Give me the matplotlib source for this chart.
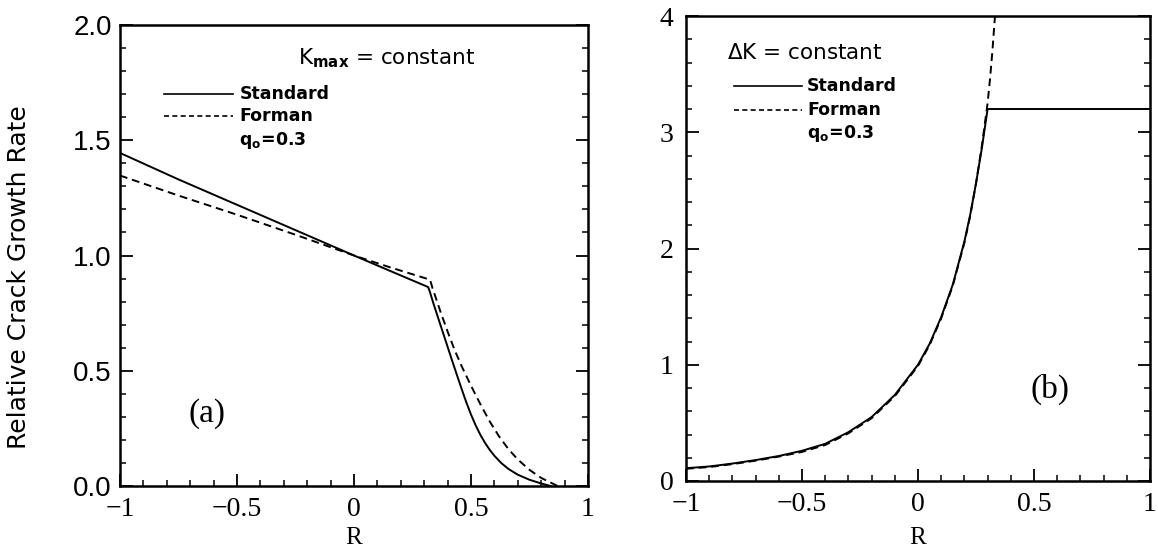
import matplotlib
matplotlib.use("Agg")
import matplotlib.pyplot as plt
from matplotlib.ticker import MultipleLocator, FixedLocator

# ---- panel (a): K_max = constant ----
r_std_a = [-1.0, -0.75, -0.5, -0.25, 0.0, 0.15, 0.317, 0.325, 0.34, 0.36, 0.38,
           0.40, 0.42, 0.44, 0.46, 0.48, 0.50, 0.52, 0.54, 0.56, 0.58, 0.60,
           0.63, 0.66, 0.70, 0.75, 0.80, 0.84]
rate_std_a = [1.445, 1.33, 1.22, 1.11, 1.0, 0.935, 0.863, 0.84, 0.79, 0.728, 0.666,
              0.604, 0.542, 0.481, 0.421, 0.363, 0.31, 0.263, 0.222, 0.187, 0.157,
              0.131, 0.099, 0.074, 0.049, 0.027, 0.011, 0.0]

r_for_a = [-1.0, -0.75, -0.5, -0.25, 0.0, 0.15, 0.325, 0.335, 0.35, 0.37, 0.40,
           0.43, 0.46, 0.50, 0.54, 0.58, 0.62, 0.66, 0.70, 0.75, 0.80, 0.85, 0.87]
rate_for_a = [1.347, 1.26, 1.177, 1.09, 1.0, 0.95, 0.895, 0.86, 0.815, 0.755, 0.67,
              0.59, 0.52, 0.435, 0.355, 0.28, 0.215, 0.16, 0.115, 0.07, 0.035, 0.01, 0.0]

# ---- panel (b): delta K = constant ----
r_std_b = [-1.0, -0.9, -0.8, -0.7, -0.6, -0.5, -0.4, -0.3, -0.2, -0.1, 0.0,
           0.05, 0.1, 0.15, 0.2, 0.225, 0.25, 0.275, 0.3, 1.0]
rate_std_b = [0.11, 0.125, 0.15, 0.18, 0.215, 0.26, 0.32, 0.42, 0.55, 0.74, 1.0,
              1.18, 1.41, 1.69, 2.06, 2.29, 2.56, 2.86, 3.2, 3.2]

r_for_b = [-1.0, -0.9, -0.8, -0.7, -0.6, -0.5, -0.4, -0.3, -0.2, -0.1, 0.0,
           0.05, 0.1, 0.15, 0.2, 0.225, 0.25, 0.275, 0.3, 0.31, 0.32, 0.33, 0.336]
rate_for_b = [0.105, 0.12, 0.145, 0.175, 0.21, 0.25, 0.31, 0.41, 0.54, 0.73, 0.99,
              1.17, 1.40, 1.68, 2.05, 2.28, 2.56, 2.88, 3.25, 3.45, 3.68, 3.95, 4.1]

xticks = [-1, -0.5, 0, 0.5, 1]
xtick_labels = ["\u22121", "\u22120.5", "0", "0.5", "1"]
yticks_a = [0.0, 0.5, 1.0, 1.5, 2.0]
yticks_b = [0, 1, 2, 3, 4]

SERIF = "Liberation Serif"
SANS = "DejaVu Sans"

fig = plt.figure(figsize=(11.58, 5.5), dpi=100)
ax_a = fig.add_axes([120 / 1158, 64 / 550, 468 / 1158, 461 / 550])
ax_b = fig.add_axes([686 / 1158, 69 / 550, 464 / 1158, 465 / 550])


def style_axes(ax, ymin, ymax, yminor, r_label_y):
    ax.set_xlim(-1, 1)
    ax.set_ylim(ymin, ymax)
    for s in ax.spines.values():
        s.set_linewidth(1.8)
    ax.xaxis.set_major_locator(FixedLocator(xticks))
    ax.xaxis.set_minor_locator(MultipleLocator(0.1))
    ax.yaxis.set_minor_locator(MultipleLocator(yminor))
    ax.tick_params(which="both", direction="in", top=False, right=True)
    ax.tick_params(which="major", length=9, width=1.3)
    ax.tick_params(which="minor", length=4, width=1.1)
    ax.tick_params(axis="x", which="major", pad=8)
    ax.set_xticklabels(xtick_labels, fontfamily=SERIF, fontsize=20)
    ax.set_xlabel("R", fontfamily=SERIF, fontsize=18)
    ax.xaxis.set_label_coords(0.5, r_label_y)


# panel (a)
ax_a.plot(r_std_a, rate_std_a, color="black", lw=1.4)
ax_a.plot(r_for_a, rate_for_a, color="black", lw=1.4, ls=(0, (4, 2.5)))
style_axes(ax_a, 0, 2.0, 0.1, -0.088)
ax_a.set_yticks(yticks_a)
ax_a.set_yticklabels([f"{v:.1f}" for v in yticks_a], fontfamily="Liberation Sans",
                     fontsize=20)
ax_a.tick_params(axis="y", which="major", pad=6)
ax_a.set_ylabel("Relative Crack Growth Rate", fontfamily=SANS, fontsize=18)
ax_a.yaxis.set_label_coords(-0.19, 0.453)
ax_a.text(0.14, 1.857, r"K$_{\mathbf{max}}$ = constant", fontfamily=SANS,
          fontsize=15.5, ha="center", va="center")
ax_a.plot([-0.81, -0.515], [1.70, 1.70], color="black", lw=1.2)
ax_a.plot([-0.81, -0.515], [1.606, 1.606], color="black", lw=1.2, ls=(0, (3, 2)))
ax_a.text(-0.49, 1.70, "Standard", fontfamily=SANS, fontsize=12.5,
          fontweight="bold", va="center")
ax_a.text(-0.49, 1.606, "Forman", fontfamily=SANS, fontsize=12.5,
          fontweight="bold", va="center")
ax_a.text(-0.49, 1.50, r"q$_{\mathbf{o}}$=0.3", fontfamily=SANS, fontsize=12.5,
          fontweight="bold", va="center")
ax_a.text(-0.627, 0.312, "(a)", fontfamily=SERIF, fontsize=24,
          ha="center", va="center")

# panel (b)
ax_b.plot(r_std_b, rate_std_b, color="black", lw=1.4)
ax_b.plot(r_for_b, rate_for_b, color="black", lw=1.4, ls=(0, (4, 2.5)))
style_axes(ax_b, 0, 4, 0.2, -0.098)
ax_b.set_yticks(yticks_b)
ax_b.set_yticklabels([str(v) for v in yticks_b], fontfamily=SERIF, fontsize=20)
ax_b.tick_params(axis="y", which="major", pad=9)
ax_b.text(-0.486, 3.68, r"$\Delta$K = constant", fontfamily=SANS, fontsize=15.5,
          ha="center", va="center")
ax_b.plot([-0.793, -0.502], [3.40, 3.40], color="black", lw=1.2)
ax_b.plot([-0.793, -0.502], [3.19, 3.19], color="black", lw=1.2, ls=(0, (3, 2)))
ax_b.text(-0.478, 3.40, "Standard", fontfamily=SANS, fontsize=12.5,
          fontweight="bold", va="center")
ax_b.text(-0.478, 3.19, "Forman", fontfamily=SANS, fontsize=12.5,
          fontweight="bold", va="center")
ax_b.text(-0.478, 2.99, r"q$_{\mathbf{o}}$=0.3", fontfamily=SANS, fontsize=12.5,
          fontweight="bold", va="center")
ax_b.text(0.571, 0.79, "(b)", fontfamily=SERIF, fontsize=24,
          ha="center", va="center")

fig.savefig("out.png", dpi=100)
